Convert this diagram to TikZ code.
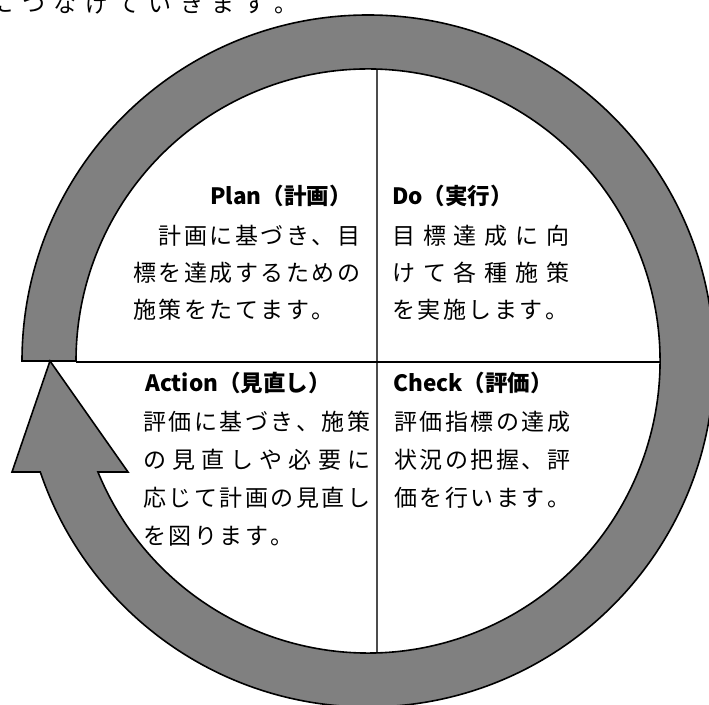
\documentclass[tikz,border=0pt]{standalone}
\usepackage{fontspec}
\newfontfamily\jp{Noto Sans CJK JP}
\makeatletter
\def\spr@end{\spr@end}
\newcommand\spr[2]{\hbox to #1{\spr@first#2\spr@end}}
\def\spr@first#1{\ifx#1\spr@end\else#1\expandafter\spr@next\fi}
\def\spr@next#1{\ifx#1\spr@end\else\hfill#1\expandafter\spr@next\fi}
\makeatother
\tikzset{
  body/.style={inner sep=0pt, anchor=base west, font=\jp\fontsize{23}{23}\selectfont},
  head/.style={inner sep=0pt, anchor=base west, font=\jp\bfseries\fontsize{22.5}{22.5}\selectfont},
  ring/.style={fill=gray, draw=black, line width=1.6pt, line join=miter},
  vline/.style={draw=black!70, line width=1.3pt},
  hline/.style={draw=black, line width=1.3pt}
}
\begin{document}
\begin{tikzpicture}[x=1pt,y=1pt]
\useasboundingbox (0,0) rectangle (709,704);
\clip (0,0) rectangle (709,704);
% top (cut-off) text
\node[body] (toptext) at (-9.6,691) {\spr{307.4pt}{につなげていきます。}};
% cross lines
\coordinate (C) at (368,343);
\coordinate (vt) at (377,634.9);
\coordinate (vb) at (377,51.1);
\coordinate (hl) at (76,342);
\coordinate (hr) at (660,342);
\draw[vline] (vt) -- (vb);
\draw[hline] (hl) -- (hr);
% Plan
\node[head] (planh) at (210,499) {Plan（計画）};
\node[body] (plan1) at (158.5,459) {\spr{201.5pt}{計画に基づき、目}};
\node[body] (plan2) at (133,422) {\spr{227pt}{標を達成するための}};
\node[body] (plan3) at (133,385) {\spr{201.5pt}{施策をたてます。}};
% Do
\node[head] (doh) at (392,499) {Do（実行）};
\node[body] (do1) at (392,459) {\spr{177pt}{目標達成に向}};
\node[body] (do2) at (392,422) {\spr{177pt}{けて各種施策}};
\node[body] (do3) at (392,385) {\spr{176pt}{を実施します。}};
% Action
\node[head] (acth) at (145,312) {Action（見直し）};
\node[body] (act1) at (143,273) {\spr{227pt}{評価に基づき、施策}};
\node[body] (act2) at (143,235) {\spr{227pt}{の見直しや必要に}};
\node[body] (act3) at (143,197) {\spr{227pt}{応じて計画の見直し}};
\node[body] (act4) at (143,159) {\spr{150.5pt}{を図ります。}};
% Check
\node[head] (chkh) at (393,312) {Check（評価）};
\node[body] (chk1) at (394,273) {\spr{176pt}{評価指標の達成}};
\node[body] (chk2) at (394,235) {\spr{176pt}{状況の把握、評}};
\node[body] (chk3) at (394,197) {\spr{176pt}{価を行います。}};
% circular arrow
\coordinate (wingL) at (12,232);
\coordinate (tip) at (50,343);
\coordinate (wingR) at (128,232);
\path[ring] ([shift={(180:346)}]C) arc[start angle=180, end angle=-161.29, radius=346]
  -- (wingL) -- (tip) -- (wingR)
  -- ([shift={(-157.66:292)}]C) arc[start angle=-157.66, end angle=180, radius=292] -- cycle;
\end{tikzpicture}
\end{document}
